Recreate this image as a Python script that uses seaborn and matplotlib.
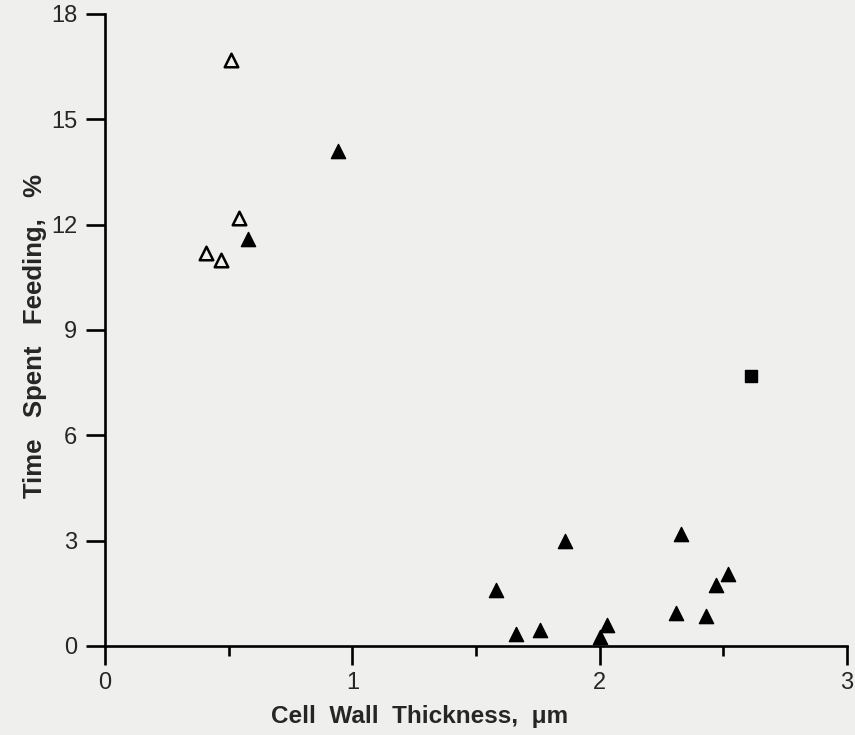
import matplotlib
matplotlib.use("Agg")
import matplotlib.pyplot as plt
from matplotlib.ticker import MultipleLocator
import pandas as pd
import seaborn as sns

# open triangles
open_x = [0.51, 0.54, 0.41, 0.47]
open_y = [16.7, 12.2, 11.2, 11.0]

# filled triangles
filled_x = [0.94, 0.58, 1.58, 1.66, 1.76, 1.86, 2.00, 2.03, 2.31, 2.33, 2.43, 2.47, 2.52]
filled_y = [14.1, 11.6, 1.6, 0.35, 0.45, 3.0, 0.25, 0.6, 0.95, 3.2, 0.85, 1.75, 2.05]

# filled square
square_x = [2.61]
square_y = [7.7]

df_open = pd.DataFrame({"x": open_x, "y": open_y})
df_filled = pd.DataFrame({"x": filled_x, "y": filled_y})
df_square = pd.DataFrame({"x": square_x, "y": square_y})

sns.set_style("ticks")
plt.rcParams['font.family'] = ['Liberation Sans', 'DejaVu Sans']

bg = '#efefed'
fig = plt.figure(figsize=(8.55, 7.35), dpi=100, facecolor=bg)
ax = fig.add_axes([0.1228, 0.1211, 0.868, 0.86])
ax.set_facecolor(bg)

sns.scatterplot(data=df_open, x="x", y="y", marker="^", s=95, facecolor=bg,
                edgecolor="black", linewidth=1.8, ax=ax, clip_on=False, zorder=3)
sns.scatterplot(data=df_filled, x="x", y="y", marker="^", s=105, color="black",
                edgecolor="black", linewidth=1.0, ax=ax, clip_on=False, zorder=3)
sns.scatterplot(data=df_square, x="x", y="y", marker="s", s=85, color="black",
                edgecolor="black", linewidth=1.0, ax=ax, clip_on=False, zorder=3)

ax.set_xlim(0, 3)
ax.set_ylim(0, 18)
ax.xaxis.set_major_locator(MultipleLocator(1))
ax.xaxis.set_minor_locator(MultipleLocator(0.5))
ax.yaxis.set_major_locator(MultipleLocator(3))

sns.despine(ax=ax)
for side in ["left", "bottom"]:
    ax.spines[side].set_linewidth(1.9)
    ax.spines[side].set_color("black")

ax.tick_params(axis="y", which="major", length=14, width=1.9, pad=6,
               labelsize=17, direction="out", color="black")
ax.tick_params(axis="x", which="major", length=14, width=1.9, pad=5,
               labelsize=17, direction="out", color="black")
ax.tick_params(axis="x", which="minor", length=7, width=1.9, direction="out",
               color="black")

ax.set_xlabel("Cell  Wall  Thickness,  μm", fontsize=17.5, fontweight="bold")
ax.set_ylabel("Time   Spent   Feeding,   %", fontsize=18.5, fontweight="bold")
ax.xaxis.set_label_coords(0.424, -0.093)
ax.yaxis.set_label_coords(-0.078, 0.49)

fig.savefig("out.png", dpi=100, facecolor=bg)
